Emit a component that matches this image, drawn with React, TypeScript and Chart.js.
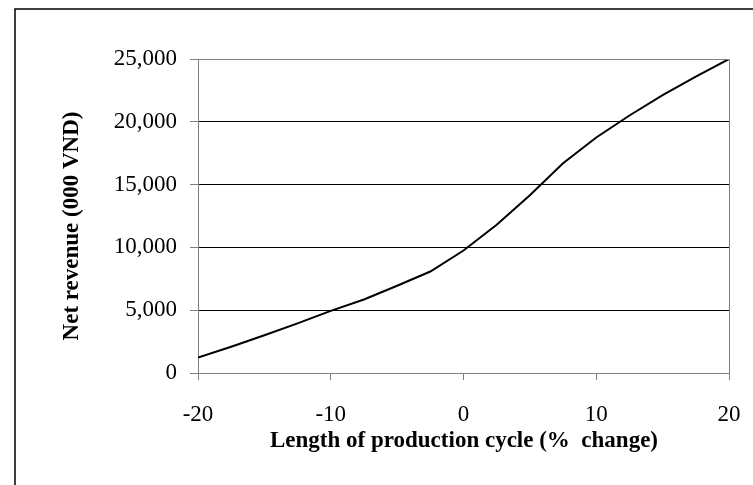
import React, { useEffect, useRef } from "react";
import { Chart, registerables } from "chart.js";

Chart.register(...registerables);

const cycleChange = [-20, -17.5, -15, -12.5, -10, -7.5, -5, -2.5, 0, 2.5, 5, 7.5, 10, 12.5, 15, 17.5, 20];
const netRevenue = [1230, 2090, 3000, 3950, 4950, 5850, 6950, 8080, 9750, 11800, 14150, 16700, 18750, 20500, 22130, 23600, 25000];
const yTicks = [0, 5000, 10000, 15000, 20000, 25000];
const xTicks = [-20, -10, 0, 10, 20];
const xTitle = "Length of production cycle (%  change)";
const yTitle = "Net revenue (000 VND)";

const FONT = "'Liberation Serif', 'Times New Roman', serif";

const decorPlugin = {
  id: "decor",
  beforeDraw(chart: any) {
    const { ctx, width, height } = chart;
    ctx.save();
    ctx.fillStyle = "#ffffff";
    ctx.fillRect(0, 0, width, height);
    ctx.restore();
  },
  afterDatasetsDraw(chart: any) {
    const { ctx, chartArea } = chart;
    ctx.save();
    ctx.strokeStyle = "#808080";
    ctx.lineWidth = 1;
    ctx.beginPath();
    ctx.moveTo(Math.round(chartArea.left) + 0.5, Math.round(chartArea.top) + 0.5);
    ctx.lineTo(Math.round(chartArea.right) + 0.5, Math.round(chartArea.top) + 0.5);
    ctx.lineTo(Math.round(chartArea.right) + 0.5, Math.round(chartArea.bottom) + 0.5);
    ctx.stroke();
    ctx.strokeStyle = "#000000";
    ctx.lineWidth = 1.5;
    ctx.strokeRect(15, 9, 800, 600);
    ctx.fillStyle = "#000000";
    ctx.font = `bold 23px ${FONT}`;
    ctx.textAlign = "center";
    ctx.textBaseline = "middle";
    ctx.fillText(xTitle, 464, 441);
    ctx.translate(72, 226);
    ctx.rotate(-Math.PI / 2);
    ctx.fillText(yTitle, 0, 0);
    ctx.restore();
  },
};

export default function App() {
  const ref = useRef<HTMLCanvasElement | null>(null);
  useEffect(() => {
    if (!ref.current) return;
    const chart = new Chart(ref.current, {
      type: "line",
      data: {
        datasets: [
          {
            data: cycleChange.map((x, i) => ({ x, y: netRevenue[i] })),
            borderColor: "#000000",
            borderWidth: 2,
            pointRadius: 0,
            tension: 0,
            fill: false,
          },
        ],
      },
      options: {
        animation: false,
        responsive: false,
        devicePixelRatio: 1,
        layout: { padding: { left: 0, top: 59, right: 24, bottom: 0 } },
        plugins: { legend: { display: false }, tooltip: { enabled: false } },
        scales: {
          x: {
            type: "linear",
            min: -20,
            max: 20,
            afterFit: (s: any) => {
              s.height = 112;
              s.paddingLeft = 0;
              s.paddingRight = 0;
            },
            afterBuildTicks: (s: any) => {
              s.ticks = xTicks.map((v) => ({ value: v }));
            },
            ticks: {
              color: "#000000",
              font: { family: FONT, size: 23 },
              padding: 21,
              maxRotation: 0,
              callback: (v: any) => String(v),
            },
            grid: {
              drawOnChartArea: false,
              drawTicks: true,
              tickLength: 7,
              tickColor: "#808080",
            },
            border: { display: true, color: "#808080", width: 1 },
          },
          y: {
            type: "linear",
            min: 0,
            max: 25000,
            afterFit: (s: any) => {
              s.width = 198;
              s.paddingTop = 0;
              s.paddingBottom = 0;
            },
            afterBuildTicks: (s: any) => {
              s.ticks = yTicks.map((v) => ({ value: v }));
            },
            ticks: {
              color: "#000000",
              font: { family: FONT, size: 23 },
              padding: 13,
              callback: (v: any) => Number(v).toLocaleString("en-US"),
            },
            grid: {
              color: (c: any) =>
                c.tick && (c.tick.value === 0 || c.tick.value === 25000) ? "rgba(0,0,0,0)" : "#000000",
              lineWidth: 1,
              drawTicks: true,
              tickLength: 8,
              tickColor: "#808080",
            },
            border: { display: true, color: "#808080", width: 1 },
          },
        },
      },
      plugins: [decorPlugin],
    });
    return () => chart.destroy();
  }, []);
  return (
    <div style={{ position: "absolute", left: 0, top: 0, width: 753, height: 485, background: "#fff" }}>
      <canvas ref={ref} width={753} height={485} style={{ display: "block", width: 753, height: 485 }} />
    </div>
  );
}
